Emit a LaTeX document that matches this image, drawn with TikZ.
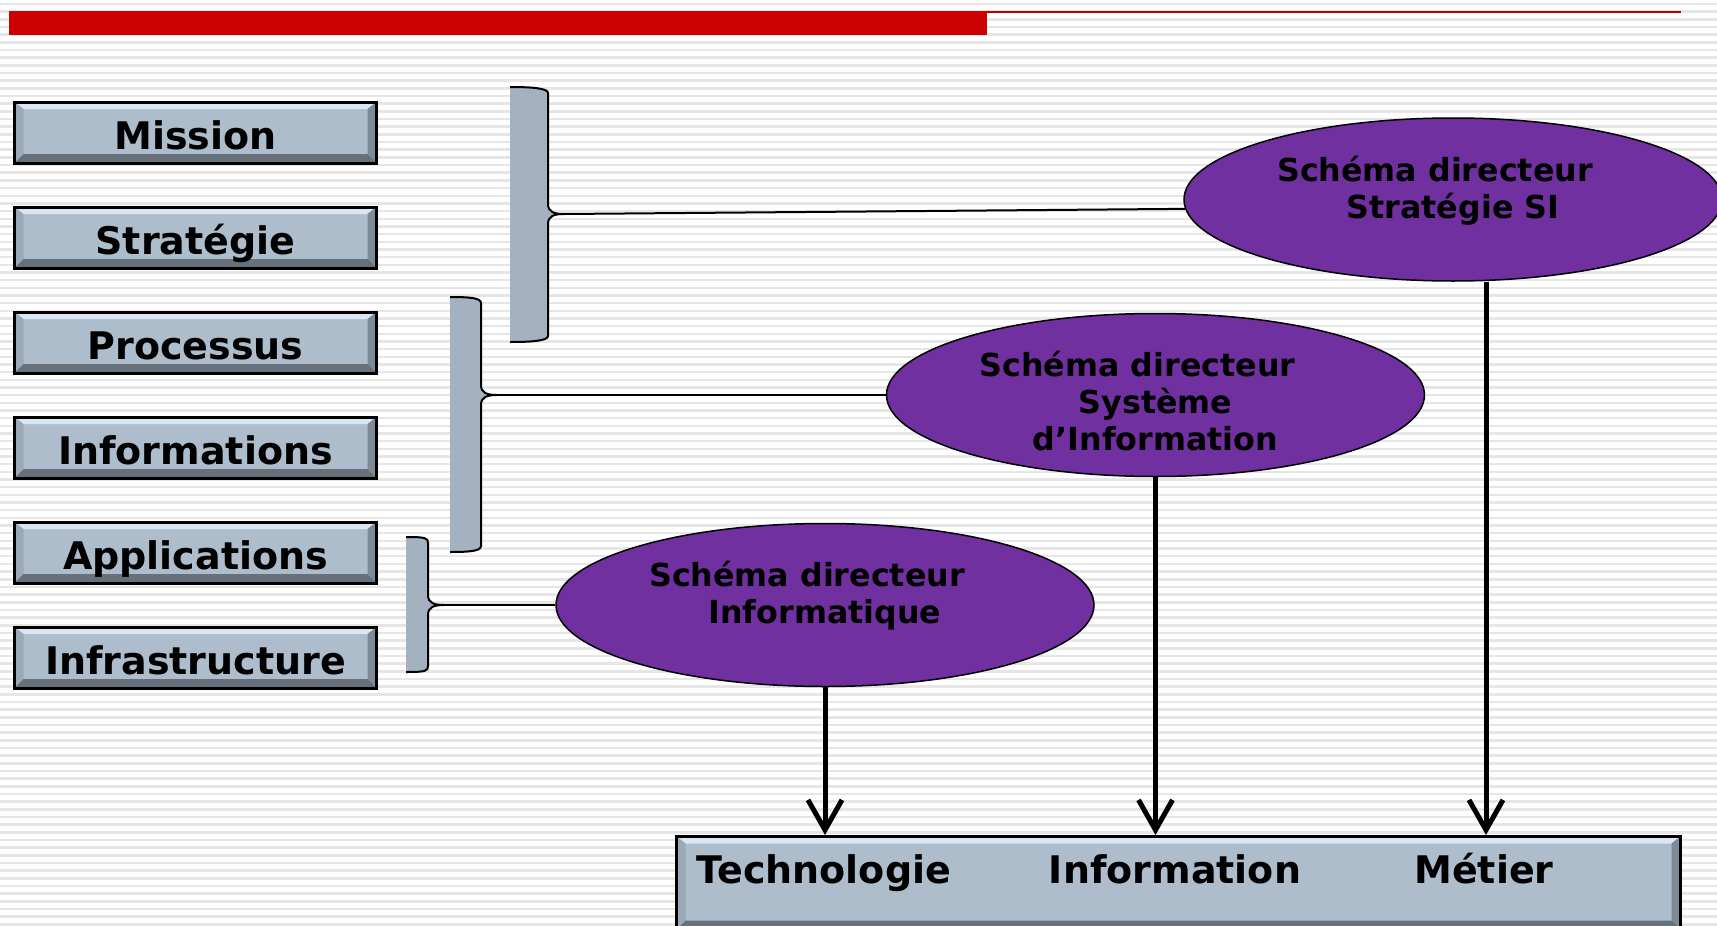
\documentclass[tikz,border=0pt]{standalone}
\usepackage{fontspec}
\setmainfont{DejaVu Sans}
\usetikzlibrary{shapes.geometric, arrows.meta}
\definecolor{slidered}{HTML}{CC0000}
\definecolor{stripe}{HTML}{E6E6E6}
\definecolor{boxfill}{HTML}{ADBDCC}
\definecolor{boxlight}{HTML}{DAE7F2}
\definecolor{boxleft}{HTML}{9CAAB8}
\definecolor{boxright}{HTML}{7E8B97}
\definecolor{boxdark}{HTML}{66717C}
\definecolor{bracefill}{HTML}{A3B1C0}
\definecolor{sdpurple}{HTML}{7030A0}

\begin{document}
\begin{tikzpicture}[x=1pt, y=-1pt,
  bevel/.style={draw=black, line width=3pt, fill=boxfill, inner sep=0pt,
    path picture={
      \fill[boxlight] (path picture bounding box.north west) -- (path picture bounding box.north east) -- ([xshift=-9pt,yshift=-7pt]path picture bounding box.north east) -- ([xshift=9pt,yshift=-7pt]path picture bounding box.north west) -- cycle;
      \fill[boxleft] (path picture bounding box.north west) -- ([xshift=9pt,yshift=-7pt]path picture bounding box.north west) -- ([xshift=9pt,yshift=9pt]path picture bounding box.south west) -- (path picture bounding box.south west) -- cycle;
      \fill[boxright] (path picture bounding box.north east) -- ([xshift=-9pt,yshift=-7pt]path picture bounding box.north east) -- ([xshift=-9pt,yshift=9pt]path picture bounding box.south east) -- (path picture bounding box.south east) -- cycle;
      \fill[boxdark] (path picture bounding box.south west) -- ([xshift=9pt,yshift=9pt]path picture bounding box.south west) -- ([xshift=-9pt,yshift=9pt]path picture bounding box.south east) -- (path picture bounding box.south east) -- cycle;
    }},
  sidebox/.style={bevel, minimum width=362pt, minimum height=61pt,
    font=\bfseries\fontsize{38}{42}\selectfont, text height=33pt, text depth=0pt},
  basetext/.style={font=\bfseries\fontsize{38}{42}\selectfont, inner sep=0pt, anchor=base},
  ell/.style={ellipse, draw=black, line width=1.5pt, fill=sdpurple, minimum width=538pt, minimum height=163pt, inner sep=0pt},
  elltext/.style={font=\bfseries\fontsize{31.7}{37}\selectfont, align=center, inner sep=0pt},
  brace/.style={draw=black, line width=2pt, fill=bracefill},
  link/.style={draw=black, line width=2pt},
  arr/.style={line width=5pt, -{Straight Barb[length=30pt,width=34pt]}}]

  \useasboundingbox (0,0) rectangle (1717,926);
  \clip (0,0) rectangle (1717,926);
  \fill[white] (0,0) rectangle (1717,926);
  \foreach \k in {0,...,120}
    \draw[stripe, line width=2.5pt] (0,{4+7.67*\k}) -- (1717,{4+7.67*\k});

  % title bar
  \fill[slidered] (9,11) rectangle (987,35);
  \draw[slidered!90!black, line width=2pt] (987,12) -- (1681,12);

  % left column
  \foreach \nm/\txt [count=\i from 0] in {mission/Mission, strategie/Stratégie, processus/Processus, informations/Informations, applications/Applications, infrastructure/Infrastructure}
    \node[sidebox] (\nm) at (195.5,{132.5+105*\i}) {\txt};

  % brackets
  \foreach \xl/\xr/\yt/\yb/\yc/\nm in {510/548/87/342/214/brS, 450/481/297/552/395/brP, 406/428/537/672/605/brA} {
    \path[brace] (\xl,\yt) .. controls ({\xl+20},\yt) and (\xr,{\yt+1}) .. (\xr,{\yt+6}) -- (\xr,{\yc-10})
      .. controls (\xr,{\yc-2}) and ({\xr+6},\yc) .. ({\xr+16},\yc)
      .. controls ({\xr+6},\yc) and (\xr,{\yc+2}) .. (\xr,{\yc+10}) -- (\xr,{\yb-6})
      .. controls (\xr,{\yb-1}) and ({\xl+20},\yb) .. (\xl,\yb);
    \coordinate (\nm) at ({\xr+16},\yc);
  }

  % schemas directeurs
  \node[ell] (sdsi) at (1453,199.5) {};
  \node[ell] (sdsyst) at (1155.5,395) {};
  \node[ell] (sdinfo) at (825,605) {};
  \node[elltext] (sdsiT) at (1453,191) {Schéma directeur\hspace*{36pt}\\Stratégie SI};
  \node[elltext] (sdsystT) at (1155.5,400.8) {Schéma directeur\hspace*{36pt}\\Système\\d’Information};
  \node[elltext] (sdinfoT) at (825,596) {Schéma directeur\hspace*{36pt}\\Informatique};

  \draw[link] (brS) -- (sdsi.182);
  \draw[link] (brP) -- (sdsyst.west);
  \draw[link] (brA) -- (sdinfo.west);

  % base
  \node[bevel, minimum width=1004pt, minimum height=93pt] (base) at (1178.5,883) {};
  \node[basetext] (tech) at (823.7,883) {Technologie};
  \node[basetext] (info) at (1175,883) {Information};
  \node[basetext] (metier) at (1484,883) {Métier};

  \draw[arr] (sdinfo.south) -- (sdinfo.south |- base.north);
  \draw[arr] (sdsyst.south) -- (sdsyst.south |- base.north);
  \draw[arr] ([xshift=33pt]sdsi.south) -- ([xshift=33pt]sdsi.south |- base.north);
\end{tikzpicture}
\end{document}
